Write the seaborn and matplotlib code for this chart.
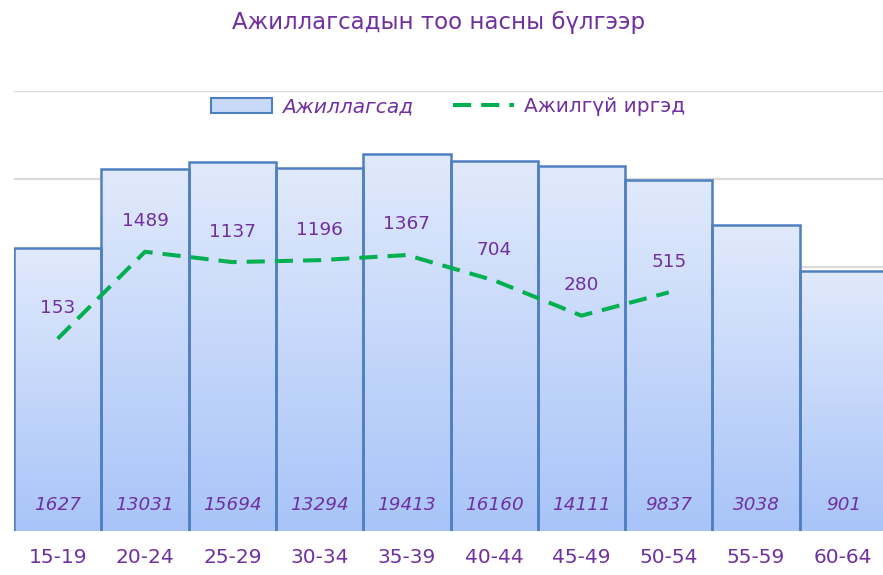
import numpy as np
import pandas as pd
import seaborn as sns
import matplotlib
matplotlib.use("Agg")
import matplotlib.pyplot as plt
from matplotlib.colors import LinearSegmentedColormap
from matplotlib.lines import Line2D
from matplotlib.patches import Patch

# ---- data ----
age_groups = ["15-19", "20-24", "25-29", "30-34", "35-39",
              "40-44", "45-49", "50-54", "55-59", "60-64"]
employed = [1627, 13031, 15694, 13294, 19413, 16160, 14111, 9837, 3038, 901]
unemployed_groups = age_groups[:8]
unemployed = [153, 1489, 1137, 1196, 1367, 704, 280, 515]
title = "Ажиллагсадын тоо насны бүлгээр"
label_employed = "Ажиллагсад"
label_unemployed = "Ажилгүй иргэд"

PURPLE = "#7030a0"
GREEN = "#00b050"
EDGE = "#4f7fbf"

sns.set_theme(style="white")
plt.rcParams["font.family"] = ["DejaVu Sans"]

W, H = 883, 575
fig = plt.figure(figsize=(W / 100, H / 100), dpi=100)
ax = fig.add_axes([14 / W, (H - 531) / H, (887 - 14) / W, (531 - 91) / H])
ax.set_yscale("log")

df_bar = pd.DataFrame({"age": age_groups, "employed": employed})
sns.barplot(data=df_bar, x="age", y="employed", ax=ax, width=1.0,
            color="#dce7fb", edgecolor=EDGE, linewidth=1.8, zorder=2,
            saturation=1)
ax.set_ylim(1, 1e5)
ax.set_xlim(-0.5, 9.5)

# gradient fill inside each bar (linear in screen space, per bar)
cmap = LinearSegmentedColormap.from_list("barfill", ["#a8c4f8", "#e1eafc"])
grad = np.linspace(0, 1, 256).reshape(-1, 1)
to_axes = ax.transData + ax.transAxes.inverted()
for p in list(ax.patches):
    x0 = p.get_x()
    x1 = x0 + p.get_width()
    top = p.get_y() + p.get_height()
    (ax0, ay1) = to_axes.transform((x0, top))
    (ax1, _) = to_axes.transform((x1, top))
    im = ax.imshow(grad, cmap=cmap, aspect="auto", origin="lower",
                   extent=(ax0, ax1, 0, ay1), transform=ax.transAxes,
                   zorder=2.5, interpolation="bilinear")
    im.set_clip_path(p)
    p.set_facecolor("none")
    p.set_zorder(3)
ax.set_xlim(-0.5, 9.5)
ax.set_ylim(1, 1e5)

# unemployed line
df_line = pd.DataFrame({"age": unemployed_groups, "unemployed": unemployed})
sns.lineplot(data=df_line, x="age", y="unemployed", ax=ax, sort=False,
             color=GREEN, linewidth=2.9, zorder=4)
for ln in ax.lines:
    ln.set_linestyle((0, (4.5, 2.5)))
    ln.set_dash_capstyle("butt")

# labels on line points
for i, v in enumerate(unemployed):
    ax.annotate(str(v), (i, v), xytext=(0, 22), textcoords="offset points",
                ha="center", va="center", color=PURPLE, fontsize=13.3, zorder=5)

# labels at bar bottoms
for i, v in enumerate(employed):
    ax.text(i, 0.059, str(v), transform=ax.get_xaxis_transform(),
            ha="center", va="center", color=PURPLE, fontsize=13.2,
            style="italic", zorder=5)

# axes styling
for s in ax.spines.values():
    s.set_visible(False)
ax.set_axisbelow(True)
ax.yaxis.grid(True, which="major", color="#d9d9d9", linewidth=1.6)
ax.xaxis.grid(False)
ax.set_yticklabels([])
ax.tick_params(axis="y", length=0, which="both")
ax.tick_params(axis="x", length=0, pad=12, labelsize=14.5, labelcolor=PURPLE)
ax.set_xlabel("")
ax.set_ylabel("")

fig.text(439 / W, 1 - 22 / H, title, ha="center", va="center",
         fontsize=16.5, color=PURPLE)

handles = [Patch(facecolor="#c9daf9", edgecolor=EDGE, linewidth=1.5),
           Line2D([0], [0], color=GREEN, linewidth=2.9, linestyle=(0, (4.5, 2.5)),
                  dash_capstyle="butt")]
leg = fig.legend(handles, [label_employed, label_unemployed], ncol=2,
                 loc="center", bbox_to_anchor=(448 / W, 1 - 107 / H),
                 frameon=False, fontsize=14.5, handlelength=3.0,
                 columnspacing=2.0, handletextpad=0.5)
for t in leg.get_texts():
    t.set_color(PURPLE)
leg.get_texts()[0].set_style("italic")

fig.savefig("out.png", dpi=100)
